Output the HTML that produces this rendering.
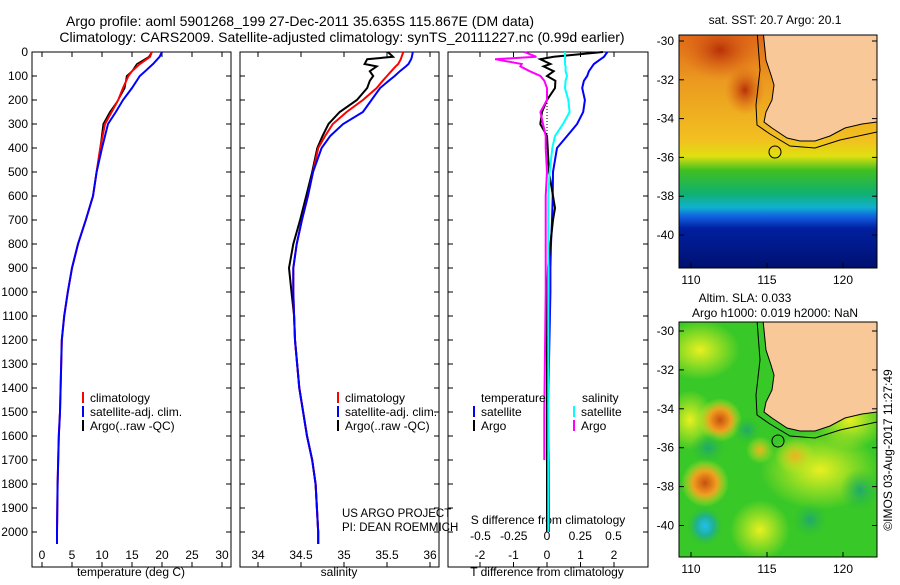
<!DOCTYPE html>
<html><head><meta charset="utf-8"><style>
body{margin:0;background:#fff}
svg text{font-family:"Liberation Sans",sans-serif;fill:#000}
</style></head><body>
<svg id="fig" width="900" height="580" viewBox="0 0 900 580" xmlns="http://www.w3.org/2000/svg">
<defs>
<linearGradient id="sst" gradientUnits="userSpaceOnUse" x1="0" y1="35" x2="0" y2="268">
<stop offset="0" stop-color="#e06818"/><stop offset="0.2" stop-color="#eb9a20"/><stop offset="0.45" stop-color="#f2c020"/>
<stop offset="0.52" stop-color="#e0e010"/><stop offset="0.58" stop-color="#40c020"/><stop offset="0.68" stop-color="#10b070"/>
<stop offset="0.74" stop-color="#10b0d0"/><stop offset="0.78" stop-color="#1060e0"/><stop offset="0.83" stop-color="#0020a0"/><stop offset="1" stop-color="#001070"/>
</linearGradient>
<radialGradient id="hot"><stop offset="0" stop-color="#c85010"/><stop offset="0.5" stop-color="#f0a020"/><stop offset="1" stop-color="#d0f020" stop-opacity="0"/></radialGradient>
<radialGradient id="warm"><stop offset="0" stop-color="#f0b020"/><stop offset="1" stop-color="#d0f020" stop-opacity="0"/></radialGradient>
<radialGradient id="yel"><stop offset="0" stop-color="#e8f020"/><stop offset="1" stop-color="#e8f020" stop-opacity="0"/></radialGradient>
<radialGradient id="cool"><stop offset="0" stop-color="#20c0f0"/><stop offset="0.5" stop-color="#20b090"/><stop offset="1" stop-color="#30c030" stop-opacity="0"/></radialGradient>
<radialGradient id="teal"><stop offset="0" stop-color="#20a870"/><stop offset="1" stop-color="#30c030" stop-opacity="0"/></radialGradient>
<radialGradient id="redtl"><stop offset="0" stop-color="#b83008"/><stop offset="1" stop-color="#e06818" stop-opacity="0"/></radialGradient>
<clipPath id="c1"><rect x="679" y="35" width="198" height="233"/></clipPath>
<clipPath id="c2"><rect x="679" y="322" width="198" height="235"/></clipPath>
</defs>
<text x="300" y="26" font-size="14" text-anchor="middle">Argo profile: aoml 5901268_199 27-Dec-2011 35.635S 115.867E (DM data)</text>
<text x="342" y="42" font-size="14" text-anchor="middle">Climatology: CARS2009. Satellite-adjusted climatology: synTS_20111227.nc (0.99d earlier)</text>
<g id="plots"></g>
<!-- Map 1 -->
<g>
<g clip-path="url(#c1)">
<rect x="679" y="35" width="198" height="233" fill="url(#sst)"/>
<ellipse cx="720" cy="50" rx="40" ry="30" fill="url(#redtl)"/>
<ellipse cx="745" cy="90" rx="20" ry="25" fill="url(#redtl)"/>
<path id="land" d="M763,30 L766,60 L771,75 L774,85 L772,100 L766,112 L764,122 L772,128 L787,138 L800,141 L815,141 L830,136 L845,128 L862,124 L877,122 L880,30 Z" fill="#f8c898" stroke="#000" stroke-width="1"/>
<path d="M757,30 L760,70 L756,105 L757,125 L770,134 L790,146 L815,148 L840,140 L877,132" fill="none" stroke="#000" stroke-width="1"/>
<circle cx="775" cy="152" r="6" fill="none" stroke="#000"/>
</g>
<rect x="679" y="35" width="198" height="233" fill="none" stroke="#000"/>
</g>
<text x="775" y="24" font-size="12" text-anchor="middle">sat. SST: 20.7  Argo: 20.1</text>
<!-- Map 2 -->
<g>
<g clip-path="url(#c2)">
<rect x="679" y="322" width="198" height="235" fill="#38c828"/>
<ellipse cx="700" cy="350" rx="40" ry="30" fill="url(#yel)"/>
<ellipse cx="690" cy="420" rx="25" ry="30" fill="url(#yel)"/>
<ellipse cx="820" cy="470" rx="60" ry="40" fill="url(#yel)"/>
<ellipse cx="760" cy="530" rx="30" ry="30" fill="url(#yel)"/>
<ellipse cx="850" cy="420" rx="35" ry="30" fill="url(#yel)"/>
<ellipse cx="720" cy="420" rx="22" ry="22" fill="url(#hot)"/>
<ellipse cx="705" cy="483" rx="24" ry="24" fill="url(#hot)"/>
<ellipse cx="760" cy="450" rx="14" ry="14" fill="url(#warm)"/>
<ellipse cx="795" cy="456" rx="20" ry="18" fill="url(#warm)"/>
<ellipse cx="705" cy="526" rx="18" ry="20" fill="url(#cool)"/>
<ellipse cx="860" cy="490" rx="20" ry="22" fill="url(#teal)"/>
<ellipse cx="708" cy="448" rx="18" ry="16" fill="url(#teal)"/>
<ellipse cx="747" cy="430" rx="14" ry="14" fill="url(#teal)"/>
<ellipse cx="810" cy="520" rx="18" ry="18" fill="url(#teal)"/>
<use href="#land" transform="translate(0,290)"/>
<path d="M757,320 L760,360 L756,395 L757,415 L770,424 L790,436 L815,438 L840,430 L877,422" fill="none" stroke="#000" stroke-width="1"/>
<circle cx="778" cy="441" r="6" fill="none" stroke="#000"/>
</g>
<rect x="679" y="322" width="198" height="235" fill="none" stroke="#000"/>
</g>
<text x="745" y="302" font-size="12" text-anchor="middle">Altim. SLA: 0.033</text>
<text x="775" y="317" font-size="12" text-anchor="middle">Argo h1000: 0.019 h2000: NaN</text>
<text transform="translate(892,450) rotate(-90)" font-size="12" text-anchor="middle">©IMOS 03-Aug-2017 11:27:49</text>
<g id="maxes"></g>
</svg>
<script>
// ---- data ----
const depthT = [0,20,50,80,100,150,200,250,300,400,500,600,700,800,900,1000,1100,1200,1300,1500,1600,1800,2000,2050];
const tempClim = [18.3,18,16.3,15,14.4,13.5,12.7,11.6,10.5,9.7,9.1,8.5,7.3,6.0,5.0,4.3,3.7,3.3,3.2,3.0,2.8,2.6,2.5,2.5];
const tempSat  = [20,19.6,18.5,17.2,16.3,15,13.5,12.3,11,10,9.1,8.5,7.3,6.0,5.0,4.3,3.7,3.3,3.2,3.0,2.8,2.6,2.5,2.5];
const tempArgo = [18.3,17.8,15.8,15,14.1,13.8,12.7,11.3,10.2,9.7,9.1,8.5,7.3,6.0,5.0,4.3,3.7,3.3,3.2,3.0,2.8,2.6,2.5,2.5];
const depthS = [0,20,30,50,60,80,100,120,150,200,250,300,350,400,500,600,700,800,900,1000,1100,1200,1400,1600,1700,1800,2000,2050];
const salClim = [35.69,35.67,35.66,35.63,35.6,35.55,35.5,35.45,35.38,35.22,35.03,34.87,34.78,34.7,34.64,34.58,34.51,34.45,34.41,34.41,34.42,34.43,34.48,34.57,34.63,34.67,34.7,34.7];
const salSat  = [35.8,35.79,35.78,35.75,35.72,35.65,35.59,35.52,35.42,35.32,35.22,34.99,34.84,34.74,34.64,34.58,34.51,34.45,34.41,34.41,34.42,34.43,34.48,34.57,34.63,34.67,34.7,34.7];
const salArgo = [35.51,35.57,35.27,35.24,35.38,35.3,35.34,35.3,35.27,35.15,34.95,34.82,34.75,34.69,34.63,34.56,34.49,34.41,34.36,34.39,34.42,34.43,34.48,34.57,34.63,34.67,34.7,34.7];
const depthD = [0,20,30,50,60,80,100,120,150,200,250,300,350,400,500,600,650,700,800,900,1000,1500,1700,2000];
const dTsat  = [1.8,1.7,1.6,1.4,1.35,1.25,1.2,1.1,1.05,1.13,1.08,0.9,0.6,0.3,0.18,0.17,0.16,0.15,0.12,0.1,0.1,0.03,0.05,0.06];
const dTargo = [1.67,0.2,-0.2,0.1,-0.1,0.2,0,0.25,0.24,0,-0.15,-0.2,0,0.02,0.06,0.18,0.24,0.18,0.1,0.03,0,0,0,0];
const dSsat  = [0.135,0.135,0.135,0.135,0.14,0.14,0.15,0.14,0.135,0.16,0.17,0.12,0.06,0.04,0.02,0.01,0.01,0.01,0.01,0.01,0.01,0.01,0.01,0.01];
const dSargo = [-0.17,-0.08,-0.39,-0.19,-0.2,-0.13,-0.05,-0.02,0,0,-0.05,-0.03,-0.01,-0.01,0,-0.01,-0.01,-0.01,-0.01,-0.01,-0.01,-0.02,-0.02,null];
const depthTicks = [0,100,200,300,400,500,600,700,800,900,1000,1100,1200,1300,1400,1500,1600,1700,1800,1900,2000];
const tTicks = [0,5,10,15,20,25,30];
const sTicks = [34,34.5,35,35.5,36];
const dTTicks = [-2,-1,0,1,2];
const dSTicks = [-0.5,-0.25,0,0.25,0.5];
const latTicks = [-30,-32,-34,-36,-38,-40];
const lonTicks = [110,115,120];
// ---- scales ----
const NS="http://www.w3.org/2000/svg";
const TOP=52, BOT=567;
const yD = d => TOP + d*0.24;
const xT = v => 42 + 6*v;
const xS = v => 258 + 86*(v-34);
const xDT = v => 547 + 33.5*v;
const xDS = v => 547 + 133*v;
const lat1 = v => 41 + (-30 - v)*19.4;
const lat2 = v => 331 + (-30 - v)*19.45;
const lonX = v => 691 + (v-110)*15.2;
const g = document.getElementById('plots');
function el(tag, attrs, parent){const e=document.createElementNS(NS,tag);for(const k in attrs)e.setAttribute(k,attrs[k]);(parent||g).appendChild(e);return e;}
function txt(x,y,s,size,anchor,parent){const t=el('text',{x:x,y:y,'font-size':size,'text-anchor':anchor||'middle'},parent);t.textContent=s;return t;}
function line(xs, depths, vals, color, w, name){
  let d=''; let started=false;
  vals.forEach((v,i)=>{ if(v===null) return; d += (started?'L':'M')+xs(v).toFixed(1)+','+yD(depths[i]).toFixed(1); started=true;});
  const p=el('path',{d:d,fill:'none',stroke:color,'stroke-width':w});
  
  
}
function frame(x0,x1,name){
  const r=el('rect',{x:x0,y:TOP,width:x1-x0,height:BOT-TOP,fill:'none',stroke:'#000'});
  
  
  depthTicks.forEach(d=>{el('line',{x1:x0,x2:x0+5,y1:yD(d),y2:yD(d),stroke:'#000'});el('line',{x1:x1-5,x2:x1,y1:yD(d),y2:yD(d),stroke:'#000'});});
}
function xticks(vals,f,y0,labelY,fmt){
  vals.forEach(v=>{const x=f(v);el('line',{x1:x,x2:x,y1:BOT,y2:BOT-5,stroke:'#000'});el('line',{x1:x,x2:x,y1:TOP,y2:TOP+5,stroke:'#000'});
    const t=txt(x,labelY,fmt?fmt(v):String(v),12);
    
    });
}
// panel 1
frame(32,231,'temperature-panel');
depthTicks.forEach(d=>{const t=txt(28,yD(d)+4,String(d),12,'end');
  
  });
xticks(tTicks,xT,BOT,559);
txt(131,576,'temperature (deg C)',12);
line(xT,depthT,tempArgo,'#000',1.5,'temp-argo-line');
line(xT,depthT,tempClim,'#f00',2,'temp-climatology-line');
line(xT,depthT,tempSat,'#00f',2,'temp-satellite-line');
// panel 2
frame(240,439,'salinity-panel');
xticks(sTicks,xS,BOT,559);
txt(339,576,'salinity',12);
line(xS,depthS,salArgo,'#000',2,'sal-argo-line');
line(xS,depthS,salClim,'#f00',2,'sal-climatology-line');
line(xS,depthS,salSat,'#00f',2,'sal-satellite-line');
txt(342,517,'US ARGO PROJECT',11.5,'start');
txt(342,531,'PI: DEAN ROEMMICH',11.5,'start');
// panel 3
frame(448,648,'difference-panel');
xticks(dTTicks,xDT,BOT,559);
dSTicks.forEach(v=>{const t=txt(xDS(v),540,String(v),12);});
txt(548,524,'S difference from climatology',12);
txt(547,576,'T difference from climatology',12);
el('line',{x1:547,x2:547,y1:yD(150),y2:yD(420),stroke:'#000','stroke-dasharray':'1,2'});
line(xDT,depthD,dTsat,'#00f',2,'tdiff-satellite-line');
line(xDT,depthD,dTargo,'#000',2,'tdiff-argo-line');
line(xDS,depthD,dSargo,'#f0f',2,'sdiff-argo-line');
line(xDS,depthD,dSsat,'#0ff',2,'sdiff-satellite-line');
// legends
function leg(x,y,color,label,name){
  const r=el('rect',{x:x,y:y-10,width:2,height:11,fill:color});
  const t=txt(x+8,y,label,12,'start');
  
  
}
leg(82,402,'#f00','climatology','legend-climatology');
leg(82,416,'#00f','satellite-adj. clim.','legend-satellite-adj');
leg(82,430,'#000','Argo(..raw -QC)','legend-argo');
leg(337,402,'#f00','climatology','legend2-climatology');
leg(337,416,'#00f','satellite-adj. clim.','legend2-satellite-adj');
leg(337,430,'#000','Argo(..raw -QC)','legend2-argo');
txt(481,402,'temperature',12,'start');
txt(582,402,'salinity',12,'start');
leg(473,416,'#00f','satellite','legend-t-satellite');
leg(473,430,'#000','Argo','legend-t-argo');
leg(573,416,'#0ff','satellite','legend-s-satellite');
leg(573,430,'#f0f','Argo','legend-s-argo');
// map axes
const ma=document.getElementById('maxes');
latTicks.forEach(v=>{
  [lat1,lat2].forEach(f=>{const y=f(v);
    el('line',{x1:679,x2:684,y1:y,y2:y,stroke:'#000'},ma);el('line',{x1:872,x2:877,y1:y,y2:y,stroke:'#000'},ma);
    const t=txt(674,y+4,String(v),12,'end',ma);
    
    });
});
lonTicks.forEach(v=>{const x=lonX(v);
  [[268,284],[557,573]].forEach(([yb,yl])=>{el('line',{x1:x,x2:x,y1:yb,y2:yb-5,stroke:'#000'},ma);
    const t=txt(x,yl,String(v),12,'middle',ma);
    
    });
});
</script>
</body></html>
